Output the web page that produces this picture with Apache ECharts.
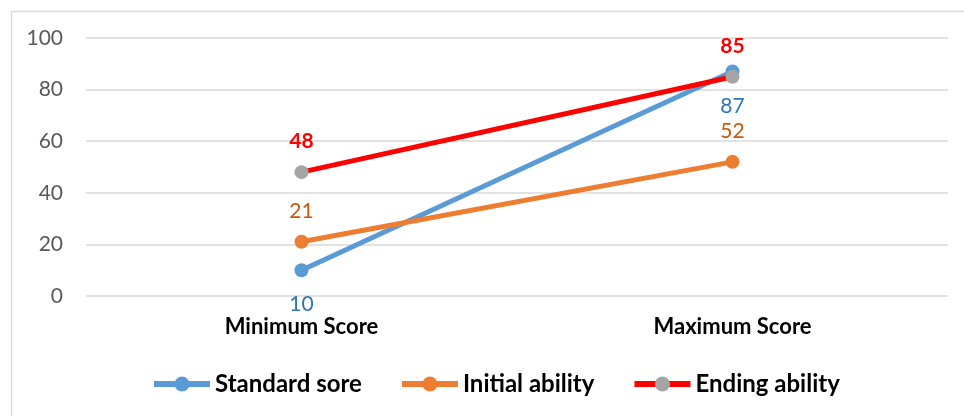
<!DOCTYPE html>
<html>
<head>
<meta charset="utf-8">
<script src="https://cdn.jsdelivr.net/npm/echarts@6/dist/echarts.min.js"></script>
<style>html,body{margin:0;padding:0;background:#fff}#c{width:964px;height:416px}</style>
</head>
<body>
<div id="c"></div>
<script>
const categories = ['Minimum Score', 'Maximum Score'];
const standardScore = [10, 87];
const initialAbility = [21, 52];
const endingAbility = [48, 85];
const seriesNames = ['Standard sore', 'Initial ability', 'Ending ability'];

const chart = echarts.init(document.getElementById('c'), null, {renderer: 'canvas'});
const FONT = 'Lato, "Open Sans", sans-serif';
chart.setOption({
  animation: false,
  backgroundColor: '#fff',
  graphic: [{
    type: 'rect', left: 9, top: 9, shape: {width: 1200, height: 1200},
    style: {fill: 'none', stroke: '#d9d9d9', lineWidth: 1.5}, silent: true, z: -10
  }],
  grid: {left: 86, right: 16, top: 38, bottom: 120, containLabel: false},
  legend: {
    data: seriesNames,
    left: 146, top: 367,
    itemWidth: 56, itemHeight: 19, itemGap: 37,
    lineStyle: {width: 6},
    textStyle: {fontFamily: FONT, fontSize: 24, fontWeight: 'bold', color: '#000'}
  },
  xAxis: {
    type: 'category', data: categories, boundaryGap: true,
    axisLine: {show: false}, axisTick: {show: false},
    axisLabel: {fontFamily: FONT, fontSize: 22, fontWeight: 'bold', color: '#000', margin: 20}
  },
  yAxis: {
    type: 'value', min: 0, max: 100, interval: 20,
    axisLine: {show: false}, axisTick: {show: false},
    axisLabel: {fontFamily: FONT, fontSize: 21, color: '#595959', margin: 23},
    splitLine: {lineStyle: {color: '#d9d9d9', width: 1.5}}
  },
  series: [
    {
      name: seriesNames[0], type: 'line', data: standardScore,
      symbol: 'circle', symbolSize: 14,
      lineStyle: {color: '#5b9bd5', width: 5},
      itemStyle: {color: '#5b9bd5'},
      label: {show: true, position: 'bottom', distance: 17, fontFamily: FONT, fontSize: 21, color: '#2e75b6'}
    },
    {
      name: seriesNames[1], type: 'line', data: initialAbility,
      symbol: 'circle', symbolSize: 14,
      lineStyle: {color: '#ed7d31', width: 5},
      itemStyle: {color: '#ed7d31'},
      label: {show: true, position: 'top', distance: 13, fontFamily: FONT, fontSize: 21, color: '#c55a11'}
    },
    {
      name: seriesNames[2], type: 'line', data: endingAbility,
      symbol: 'circle', symbolSize: 14,
      lineStyle: {color: '#ff0000', width: 5},
      itemStyle: {color: '#a5a5a5'},
      label: {show: true, position: 'top', distance: 13, fontFamily: FONT, fontSize: 21, fontWeight: 'bold', color: '#ff0000'}
    }
  ]
});
</script>
</body>
</html>
